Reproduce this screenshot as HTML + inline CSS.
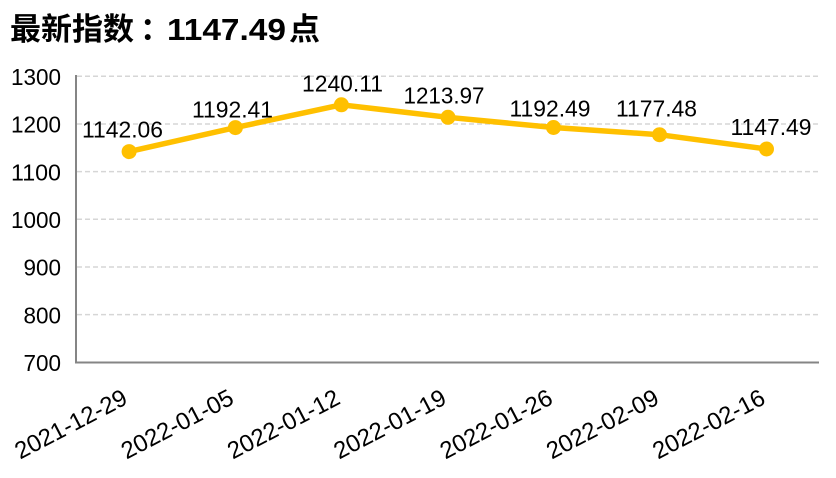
<!DOCTYPE html>
<html><head><meta charset="utf-8"><style>
html,body{margin:0;padding:0;background:#fff;}
svg{display:block;}
text{font-family:"Liberation Sans","Noto Sans CJK SC",sans-serif;fill:#000;}
</style></head><body>
<svg width="836" height="478" viewBox="0 0 836 478" xmlns="http://www.w3.org/2000/svg">
<!-- title -->
<text x="10" y="40" font-size="31" font-weight="bold" style="font-family:'Noto Sans CJK SC','WenQuanYi Zen Hei',sans-serif;">最新指数</text>
<text x="140" y="40" font-size="31" font-weight="bold" style="font-family:'Noto Sans CJK SC','WenQuanYi Zen Hei',sans-serif;">：</text>
<text x="167" y="40" font-size="31" font-weight="bold" textLength="119" lengthAdjust="spacingAndGlyphs">1147.49</text>
<text x="289" y="40" font-size="31" font-weight="bold" style="font-family:'Noto Sans CJK SC','WenQuanYi Zen Hei',sans-serif;">点</text>

<!-- gridlines -->
<g stroke="#d6d6d6" stroke-width="1.5" stroke-dasharray="5,3">
<line x1="77" y1="76.3" x2="819" y2="76.3"/>
<line x1="77" y1="124" x2="819" y2="124"/>
<line x1="77" y1="171.6" x2="819" y2="171.6"/>
<line x1="77" y1="219.3" x2="819" y2="219.3"/>
<line x1="77" y1="267" x2="819" y2="267"/>
<line x1="77" y1="314.6" x2="819" y2="314.6"/>
</g>
<!-- axes -->
<line x1="76" y1="75" x2="76" y2="363" stroke="#858585" stroke-width="2"/>
<line x1="75" y1="362.5" x2="819" y2="362.5" stroke="#858585" stroke-width="2"/>

<!-- y labels -->
<g font-size="23" text-anchor="end">
<text x="61" y="85" textLength="50" lengthAdjust="spacingAndGlyphs">1300</text>
<text x="61" y="132.7" textLength="50" lengthAdjust="spacingAndGlyphs">1200</text>
<text x="61" y="180.3" textLength="50" lengthAdjust="spacingAndGlyphs">1100</text>
<text x="61" y="228" textLength="50" lengthAdjust="spacingAndGlyphs">1000</text>
<text x="61" y="275.7" textLength="37.5" lengthAdjust="spacingAndGlyphs">900</text>
<text x="61" y="323.3" textLength="37.5" lengthAdjust="spacingAndGlyphs">800</text>
<text x="61" y="371" textLength="37.5" lengthAdjust="spacingAndGlyphs">700</text>
</g>

<!-- series -->
<polyline fill="none" stroke="#FFC000" stroke-width="5.5" stroke-linejoin="round"
 points="129.1,151.6 235.4,127.6 341.4,104.8 448,117.3 553.5,127.5 659.5,134.7 766.5,149"/>
<g fill="#FFC000">
<circle cx="129.1" cy="151.6" r="7.5"/>
<circle cx="235.4" cy="127.6" r="7.5"/>
<circle cx="341.4" cy="104.8" r="7.5"/>
<circle cx="448" cy="117.3" r="7.5"/>
<circle cx="553.5" cy="127.5" r="7.5"/>
<circle cx="659.5" cy="134.7" r="7.5"/>
<circle cx="766.5" cy="149" r="7.5"/>
</g>

<!-- data labels -->
<g font-size="23" text-anchor="middle">
<text x="122.5" y="137.5" textLength="81" lengthAdjust="spacingAndGlyphs">1142.06</text>
<text x="232.5" y="117.3" textLength="81" lengthAdjust="spacingAndGlyphs">1192.41</text>
<text x="342.5" y="91.7" textLength="81" lengthAdjust="spacingAndGlyphs">1240.11</text>
<text x="444" y="103.3" textLength="81" lengthAdjust="spacingAndGlyphs">1213.97</text>
<text x="550" y="116.7" textLength="81" lengthAdjust="spacingAndGlyphs">1192.49</text>
<text x="656.5" y="116.7" textLength="81" lengthAdjust="spacingAndGlyphs">1177.48</text>
<text x="771" y="135" textLength="81" lengthAdjust="spacingAndGlyphs">1147.49</text>
</g>

<!-- x labels -->
<g font-size="24" text-anchor="end">
<text transform="translate(129,403) rotate(-27.5)">2021-12-29</text>
<text transform="translate(235.4,403) rotate(-27.5)">2022-01-05</text>
<text transform="translate(341.7,403) rotate(-27.5)">2022-01-12</text>
<text transform="translate(448,403) rotate(-27.5)">2022-01-19</text>
<text transform="translate(554.3,403) rotate(-27.5)">2022-01-26</text>
<text transform="translate(660.6,403) rotate(-27.5)">2022-02-09</text>
<text transform="translate(766.9,403) rotate(-27.5)">2022-02-16</text>
</g>
</svg>
</body></html>
